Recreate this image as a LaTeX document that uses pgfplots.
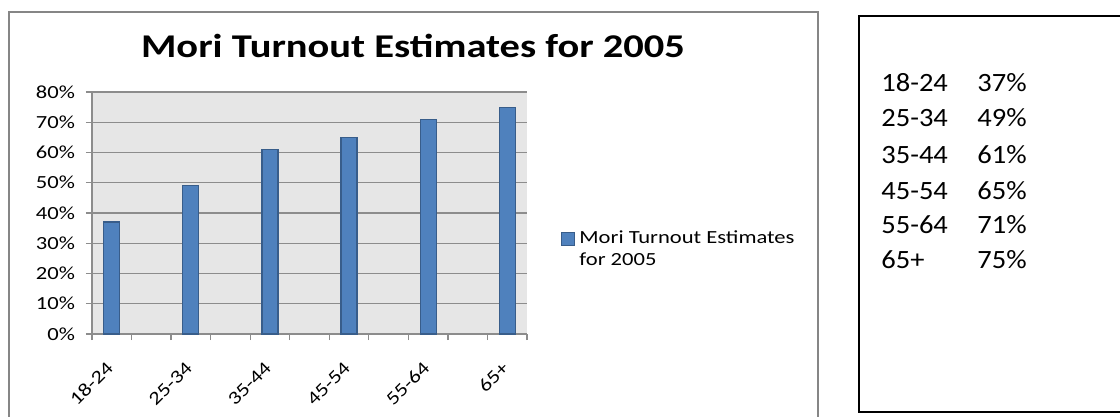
\documentclass[border=0pt]{standalone}
\usepackage{fontspec}
\setmainfont{Carlito}
\newfontfamily\chartfont[FakeStretch=1.22]{Carlito}
\newfontfamily\boxfont[FakeStretch=1.08]{Carlito}
\usepackage{pgfplots}
\pgfplotsset{compat=1.18}
\definecolor{barfill}{HTML}{4F81BD}
\definecolor{barline}{HTML}{385D8A}
\definecolor{plotbg}{HTML}{E6E6E6}
\definecolor{gridc}{HTML}{8C8C8C}
\definecolor{framec}{HTML}{868686}
\begin{document}
\begin{tikzpicture}
\path[use as bounding box] (0,0) rectangle (560pt,-208.5pt);
\draw[framec, line width=1pt] (4.5pt,-6pt) rectangle (409pt,-215pt);
\draw[black, line width=1pt] (429.5pt,-8pt) rectangle (565pt,-206pt);
\begin{axis}[
  at={(46pt,-167pt)}, anchor=south west,
  scale only axis, width=217.5pt, height=121pt,
  xmin=0.5, xmax=11.5, ymin=0, ymax=80,
  axis lines*=left,
  axis line style={gridc, line width=0.6pt},
  axis background/.style={fill=plotbg},
  ymajorgrids, grid style={gridc, line width=0.6pt},
  ytick={0,10,...,80},
  yticklabels={0\%,10\%,20\%,30\%,40\%,50\%,60\%,70\%,80\%},
  xtick={0.5,1.5,...,11.5},
  xticklabels={},
  extra x ticks={1,3,5,7,9,11},
  extra x tick labels={18-24,25-34,35-44,45-54,55-64,65+},
  extra x tick style={major tick length=0pt, grid=none},
  tick align=outside,
  major tick length=3pt,
  tick style={gridc, line width=0.6pt},
  ticklabel style={font=\chartfont\fontsize{9.25}{11}\selectfont, text=black},
  yticklabel style={xshift=-2pt},
  xticklabel style={rotate=45, anchor=east, xshift=-8.1pt, yshift=-10.3pt},
  title={Mori Turnout Estimates for 2005},
  title style={font=\chartfont\bfseries\fontsize{16.6}{19}\selectfont, at={(0.738,1)}, anchor=base, yshift=11.5pt},
  legend style={at={(1.064,0.35)}, anchor=west, draw=none, fill=none,
    font=\chartfont\fontsize{9.25}{11}\selectfont, cells={align=left}},
  legend cell align=left,
  legend image code/.code={\draw[fill=barfill, draw=barline, line width=0.6pt] (0pt,2pt) rectangle (6.5pt,8.5pt);},
]
\addplot[ybar, bar width=8pt, fill=barfill, draw=barline, line width=0.6pt]
  coordinates {(1,37) (3,49) (5,61) (7,65) (9,71) (11,75)};
\addlegendentry{Mori Turnout Estimates\\for 2005}
\end{axis}
\begin{scope}[every node/.style={anchor=base west, inner sep=0pt, font=\boxfont\fontsize{13.2}{16}\selectfont}]
\node at (440.5pt,-46pt) {18-24};   \node at (488.5pt,-46pt) {37\%};
\node at (440.5pt,-63.5pt) {25-34}; \node at (488.5pt,-63.5pt) {49\%};
\node at (440.5pt,-81.5pt) {35-44}; \node at (488.5pt,-81.5pt) {61\%};
\node at (440.5pt,-99.5pt) {45-54}; \node at (488.5pt,-99.5pt) {65\%};
\node at (440.5pt,-117pt) {55-64};  \node at (488.5pt,-117pt) {71\%};
\node at (440.5pt,-134.5pt) {65+};  \node at (488.5pt,-134.5pt) {75\%};
\end{scope}
\end{tikzpicture}
\end{document}
